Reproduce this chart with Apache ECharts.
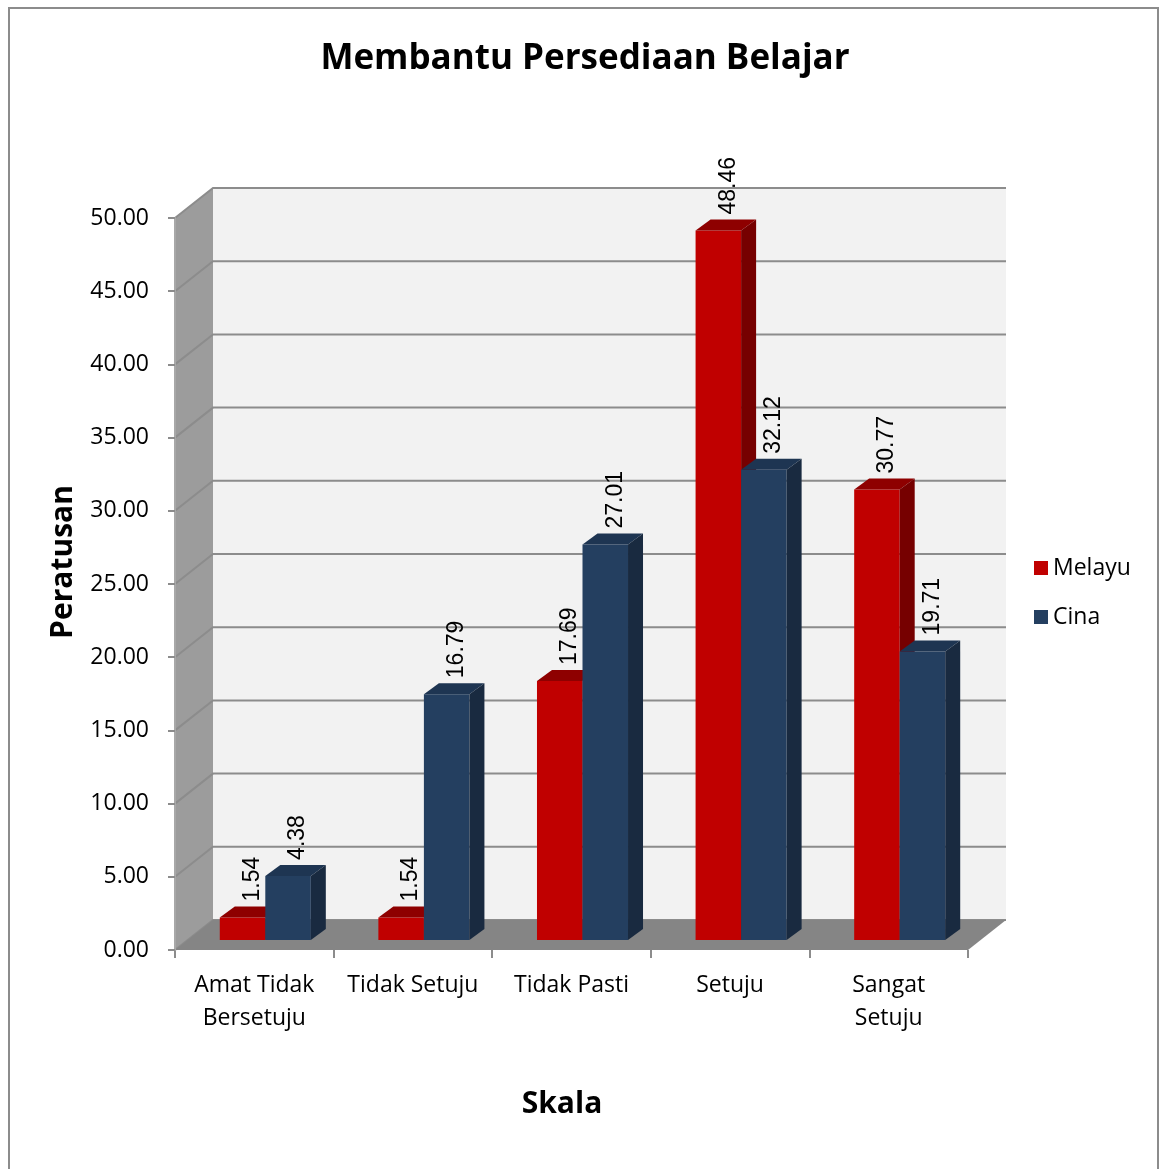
<!DOCTYPE html>
<html>
<head>
<meta charset="utf-8">
<script src="https://cdn.jsdelivr.net/npm/echarts@6/dist/echarts.min.js"></script>
<style>
  html, body { margin: 0; padding: 0; background: #fff; }
  #chart { width: 1163px; height: 1169px; }
</style>
</head>
<body>
<div id="chart"></div>
<script>
// data
const categories = ['Amat Tidak\nBersetuju', 'Tidak Setuju', 'Tidak Pasti', 'Setuju', 'Sangat\nSetuju'];
const seriesNames = ['Melayu', 'Cina'];
const melayu = [1.54, 1.54, 17.69, 48.46, 30.77];
const cina = [4.38, 16.79, 27.01, 32.12, 19.71];
const yMin = 0, yMax = 50, yStep = 5;

// fake 3d look
const DX = 38, DY = -30;        // depth of the box (back wall offset)
const BX = 11, BY = -10;        // where the bar front faces sit
const TX = 15, TY = -11;        // bar depth
const BAR_RATIO = 0.287;        // bar width / category band
const FONT = 'Open Sans';

const faces = [
  { front: '#c00000', top: '#8e0000', side: '#760000' },
  { front: '#243f60', top: '#1e3552', side: '#192a40' }
];

function renderBox(params, api) {
  const cs = params.coordSys;
  const x0 = cs.x, x1 = cs.x + cs.width;
  const yb = api.coord([0, yMin])[1];
  const yt = api.coord([0, yMax])[1];
  const children = [];
  children.push({ type: 'polygon', shape: { points: [[x0 + DX, yt + DY], [x1 + DX, yt + DY], [x1 + DX, yb + DY], [x0 + DX, yb + DY]] }, style: { fill: '#f2f2f2' } });
  children.push({ type: 'polygon', shape: { points: [[x0, yb], [x0, yt], [x0 + DX, yt + DY], [x0 + DX, yb + DY]] }, style: { fill: '#9c9c9c' } });
  for (let v = yMin; v <= yMax; v += yStep) {
    const y = api.coord([0, v])[1];
    children.push({ type: 'polyline', shape: { points: [[x0, y], [x0 + DX, y + DY], [x1 + DX, y + DY]] }, style: { stroke: '#8c8c8c', lineWidth: 2, fill: null } });
  }
  children.push({ type: 'polygon', shape: { points: [[x0, yb], [x1, yb], [x1 + DX, yb + DY], [x0 + DX, yb + DY]] }, style: { fill: '#858585' } });
  return { type: 'group', children: children };
}

function barRenderer(s) {
  const c = faces[s];
  return function (params, api) {
    const i = api.value(0), v = api.value(1);
    const base = api.coord([i, 0]);
    const top = api.coord([i, v]);
    const w = api.size([1, 0])[0] * BAR_RATIO;
    const x = base[0] - w + s * w + BX;
    const yb = base[1] + BY, yt = top[1] + BY;
    return {
      type: 'group',
      children: [
        { type: 'rect', shape: { x: x, y: yt, width: w, height: yb - yt }, style: { fill: c.front } },
        { type: 'polygon', shape: { points: [[x, yt], [x + w, yt], [x + w + TX, yt + TY], [x + TX, yt + TY]] }, style: { fill: c.top } },
        { type: 'polygon', shape: { points: [[x + w, yt], [x + w + TX, yt + TY], [x + w + TX, yb + TY], [x + w, yb]] }, style: { fill: c.side } },
        {
          type: 'text', x: x + w / 2 + 10, y: yt - 16, rotation: Math.PI / 2,
          style: { text: v.toFixed(2), fill: '#000', fontSize: 23, fontFamily: 'Liberation Sans', align: 'left', verticalAlign: 'middle' }
        }
      ]
    };
  };
}

const chart = echarts.init(document.getElementById('chart'));

chart.setOption({
  backgroundColor: '#fff',
  animation: false,
  grid: { left: 175, right: 195, top: 218, bottom: 219 },
  legend: {
    data: seriesNames,
    orient: 'vertical',
    left: 1029, top: 551,
    icon: 'rect',
    itemWidth: 14, itemHeight: 14, itemGap: 25,
    textStyle: { fontSize: 23, fontFamily: FONT, color: '#000', lineHeight: 24 }
  },
  xAxis: {
    type: 'category',
    data: categories,
    axisLine: { show: false },
    axisTick: { show: true, length: 8, lineStyle: { color: '#8c8c8c', width: 2 } },
    axisLabel: { fontSize: 23, fontFamily: FONT, color: '#000', lineHeight: 33, margin: 19, interval: 0 },
    splitLine: { show: false }
  },
  yAxis: {
    type: 'value',
    min: yMin, max: yMax, interval: yStep,
    z: 5,
    axisLine: { show: true, lineStyle: { color: '#a8a8a8', width: 2 } },
    axisTick: { show: true, length: 7, lineStyle: { color: '#8c8c8c', width: 2 } },
    axisLabel: { fontSize: 23, fontFamily: FONT, color: '#000', margin: 26, padding: [4, 0, 0, 0], formatter: v => v.toFixed(2) },
    splitLine: { show: false }
  },
  graphic: [
    { type: 'rect', shape: { x: 9, y: 8, width: 1149, height: 1175 }, style: { fill: null, stroke: '#8c8c8c', lineWidth: 2 }, silent: true },
    { type: 'text', x: 585, y: 59, style: { text: 'Membantu Persediaan Belajar', fontSize: 35, fontWeight: 'bold', fontFamily: FONT, fill: '#000', align: 'center', verticalAlign: 'middle' } },
    { type: 'text', x: 63, y: 562, rotation: Math.PI / 2, style: { text: 'Peratusan', fontSize: 30, fontWeight: 'bold', fontFamily: FONT, fill: '#000', align: 'center', verticalAlign: 'middle' } },
    { type: 'text', x: 562, y: 1104, style: { text: 'Skala', fontSize: 30, fontWeight: 'bold', fontFamily: FONT, fill: '#000', align: 'center', verticalAlign: 'middle' } }
  ],
  series: [
    { type: 'custom', name: 'box', renderItem: renderBox, data: [[0, 0]], encode: { x: 0, y: 1 }, z: 1, silent: true },
    { type: 'custom', name: seriesNames[0], renderItem: barRenderer(0), itemStyle: { color: faces[0].front }, data: melayu.map((v, i) => [i, v]), encode: { x: 0, y: 1 }, z: 2 },
    { type: 'custom', name: seriesNames[1], renderItem: barRenderer(1), itemStyle: { color: faces[1].front }, data: cina.map((v, i) => [i, v]), encode: { x: 0, y: 1 }, z: 3 }
  ]
});
</script>
</body>
</html>
